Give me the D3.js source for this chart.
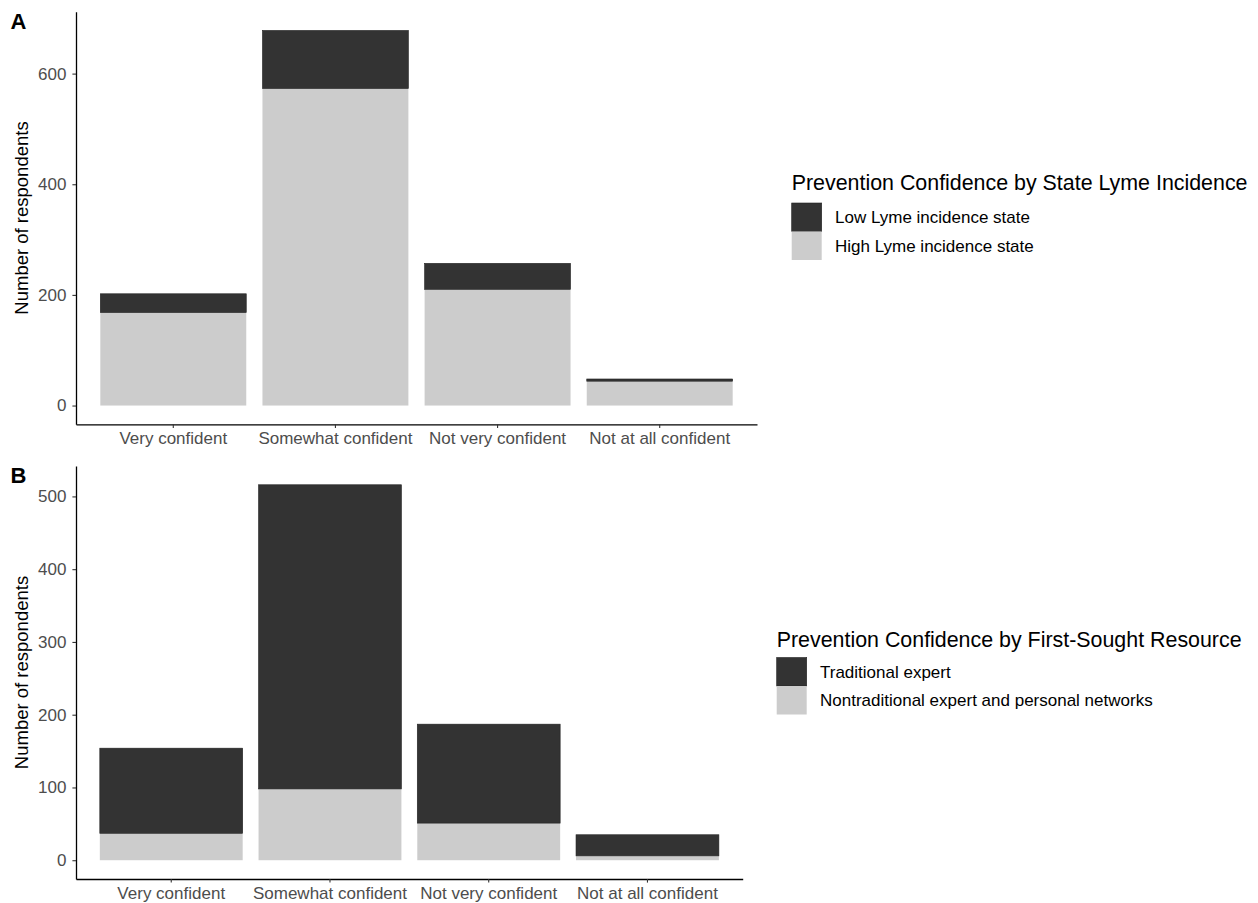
<!DOCTYPE html>
<html>
<head>
<meta charset="utf-8">
<script src="https://cdn.jsdelivr.net/npm/d3@7"></script>
<style>
  html, body { margin: 0; padding: 0; background: #fff; }
  svg { display: block; font-family: "Liberation Sans", Arial, Helvetica, sans-serif; }
</style>
</head>
<body>
<svg id="chart" width="1258" height="903"></svg>
<script>
// ---- data ----
const categories = ["Very confident", "Somewhat confident", "Not very confident", "Not at all confident"];

// Panel A: Prevention Confidence by State Lyme Incidence
const seriesA = ["Low Lyme incidence state", "High Lyme incidence state"];
const lowIncidence  = [34, 105, 47, 4];
const highIncidence = [168, 573, 210, 44];
const ticksA = [0, 200, 400, 600];

// Panel B: Prevention Confidence by First-Sought Resource
const seriesB = ["Traditional expert", "Nontraditional expert and personal networks"];
const traditional    = [117, 418, 136, 29];
const nontraditional = [37, 98, 51, 6];
const ticksB = [0, 100, 200, 300, 400, 500];

const colors = ["#333333", "#cccccc"]; // top series (dark), bottom series (light)

const svg = d3.select("#chart");

function drawPanel(opt) {
  const { label, x0, x1, y0, y1, top, bottom, names, ticks, legendTitle, legend } = opt;
  const g = svg.append("g");
  const totals = categories.map((c, i) => top[i] + bottom[i]);
  const maxV = d3.max(totals);
  const y = d3.scaleLinear().domain([-0.05 * maxV, maxV * 1.05]).range([y1, y0]);
  const x = d3.scaleBand().domain(categories).range([x0, x1]).paddingInner(0.1).paddingOuter(0.15);

  // bottom (light) bars
  g.selectAll("rect.bot").data(categories).join("rect")
    .attr("x", d => x(d)).attr("width", x.bandwidth())
    .attr("y", (d, i) => y(bottom[i])).attr("height", (d, i) => y(0) - y(bottom[i]))
    .attr("fill", colors[1]);
  // top (dark) bars
  g.selectAll("rect.top").data(categories).join("rect")
    .attr("x", d => x(d)).attr("width", x.bandwidth())
    .attr("y", (d, i) => y(bottom[i] + top[i])).attr("height", (d, i) => y(bottom[i]) - y(bottom[i] + top[i]))
    .attr("fill", colors[0]).attr("stroke", "#222").attr("stroke-width", 0.6);

  // y axis
  const ya = g.append("g").attr("transform", `translate(${x0},0)`)
    .call(d3.axisLeft(y).tickValues(ticks).tickSize(3.6).tickPadding(6).tickSizeOuter(0));
  ya.select(".domain").attr("stroke", "#000").attr("stroke-width", 1.3);
  ya.selectAll(".tick line").attr("stroke", "#333").attr("stroke-width", 1.1);
  ya.selectAll(".tick text").attr("fill", "#4d4d4d").attr("font-size", 17);
  ya.attr("font-family", null);

  // x axis
  const xa = g.append("g").attr("transform", `translate(0,${y1})`)
    .call(d3.axisBottom(x).tickSize(3.6).tickPadding(4).tickSizeOuter(0));
  xa.select(".domain").attr("stroke", "#000").attr("stroke-width", 1.3);
  xa.selectAll(".tick line").attr("stroke", "#333").attr("stroke-width", 1.1);
  xa.selectAll(".tick text").attr("fill", "#4d4d4d").attr("font-size", 17);
  xa.attr("font-family", null);

  // y title
  g.append("text")
    .attr("transform", `translate(27.5,${(y0 + y1) / 2}) rotate(-90)`)
    .attr("text-anchor", "middle").attr("font-size", 18.5).attr("fill", "#000")
    .text("Number of respondents");

  // panel label
  g.append("text").attr("x", 10.5).attr("y", y0 + 16.8).attr("font-size", 22)
    .attr("font-weight", "bold").attr("fill", "#000").text(label);

  // legend
  const lg = g.append("g");
  lg.append("text").attr("x", legend.x).attr("y", legend.titleY)
    .attr("font-size", 21.4).attr("fill", "#000").text(legendTitle);
  names.forEach((n, i) => {
    const ky = legend.keyY + i * legend.keyH;
    lg.append("rect").attr("x", legend.x).attr("y", ky)
      .attr("width", 30).attr("height", legend.keyH)
      .attr("fill", colors[i])
      .attr("stroke", i === 0 ? "#222" : "none").attr("stroke-width", 0.6);
    lg.append("text").attr("x", legend.x + legend.labelDx).attr("y", ky + legend.keyH / 2)
      .attr("dy", "0.35em").attr("font-size", 17).attr("fill", "#000").text(n);
  });
}

drawPanel({
  label: "A", x0: 76, x1: 757, y0: 11.7, y1: 424.3,
  top: lowIncidence, bottom: highIncidence, names: seriesA, ticks: ticksA,
  legendTitle: "Prevention Confidence by State Lyme Incidence",
  legend: { x: 791.7, titleY: 190, keyY: 203, keyH: 28.5, labelDx: 43.3 }
});

drawPanel({
  label: "B", x0: 76, x1: 742.7, y0: 466, y1: 879,
  top: traditional, bottom: nontraditional, names: seriesB, ticks: ticksB,
  legendTitle: "Prevention Confidence by First-Sought Resource",
  legend: { x: 776.7, titleY: 647, keyY: 657.5, keyH: 28.5, labelDx: 43.3 }
});
</script>
</body>
</html>
